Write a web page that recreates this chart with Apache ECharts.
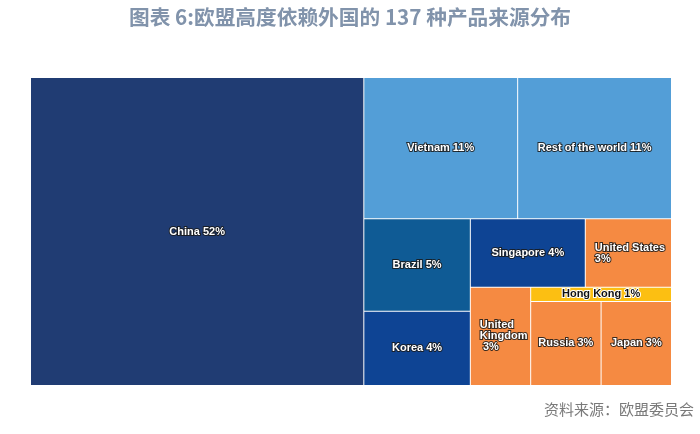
<!DOCTYPE html>
<html>
<head>
<meta charset="utf-8">
<title>欧盟高度依赖外国的 137 种产品来源分布</title>
<script src="https://cdn.jsdelivr.net/npm/echarts@6/dist/echarts.min.js"></script>
<style>
  html, body { margin: 0; padding: 0; background: #fff; }
  #treemap { width: 700px; height: 434px; }
</style>
</head>
<body>
<div id="treemap"></div>
<script>
// 来源地区及占比(%)
const regions = ['China', 'Vietnam', 'Rest of the world', 'Brazil', 'Korea', 'Singapore',
  'United States', 'United Kingdom', 'Russia', 'Japan', 'Hong Kong']
const shares = [52, 11, 11, 5, 4, 4, 3, 3, 3, 3, 1]

// 分组只用来控制 treemap 的切分顺序，让版式和原图接近
const groups = [
  'China',
  ['Vietnam', 'Rest of the world',
    ['Brazil', 'Korea',
      [['Singapore', 'United States'],
        ['United Kingdom', ['Hong Kong', ['Russia', 'Japan']]]]]]
]

const cellColors = {
  'China': '#203c73',
  'Vietnam': '#539ed7',
  'Rest of the world': '#539ed7',
  'Brazil': '#0f5b95',
  'Korea': '#0e4494',
  'Singapore': '#0e4494',
  'United States': '#f58a42',
  'United Kingdom': '#f58a42',
  'Russia': '#f58a42',
  'Japan': '#f58a42',
  'Hong Kong': '#fcbf12'
}

// 个别格子的标签样式
const labelOverrides = {
  'United States': { position: 'insideLeft', align: 'left', distance: 4 },
  'United Kingdom': { position: 'insideLeft', align: 'left', distance: 4 },
  'Hong Kong': { color: '#111', textBorderColor: '#fff', padding: [0, 5] }
}

function buildNode(item) {
  if (Array.isArray(item)) {
    return { name: '', children: item.map(buildNode) }
  }
  const i = regions.indexOf(item)
  return {
    name: item,
    value: shares[i],
    itemStyle: { color: cellColors[item] },
    label: labelOverrides[item] || {}
  }
}

const chart = echarts.init(document.getElementById('treemap'))

chart.setOption({
  animation: false,
  title: [
    {
      text: '图表 6:欧盟高度依赖外国的 137 种产品来源分布',
      left: 'center',
      top: 7,
      padding: 0,
      textStyle: {
        color: '#8193ab',
        fontSize: 20.7,
        fontWeight: 'bold',
        fontFamily: 'Noto Sans CJK SC'
      }
    },
    {
      text: '资料来源：欧盟委员会',
      right: 6,
      top: 402,
      padding: 0,
      textStyle: {
        color: '#7a7a7a',
        fontSize: 15,
        fontWeight: 'normal',
        fontFamily: 'Noto Sans CJK SC'
      }
    }
  ],
  series: [
    {
      type: 'treemap',
      left: 31,
      top: 78,
      width: 640,
      height: 307,
      sort: false,
      roam: false,
      nodeClick: false,
      breadcrumb: { show: false },
      itemStyle: {
        borderWidth: 0,
        gapWidth: 1,
        borderColor: '#fff'
      },
      upperLabel: { show: false },
      label: {
        show: true,
        formatter: '{b} {c}%',
        fontFamily: 'Liberation Sans',
        fontWeight: 'bold',
        fontSize: 11,
        color: '#fff',
        textBorderColor: 'rgba(25,25,25,0.85)',
        textBorderWidth: 2,
        overflow: 'break'
      },
      data: groups.map(buildNode)
    }
  ]
})
</script>
</body>
</html>
